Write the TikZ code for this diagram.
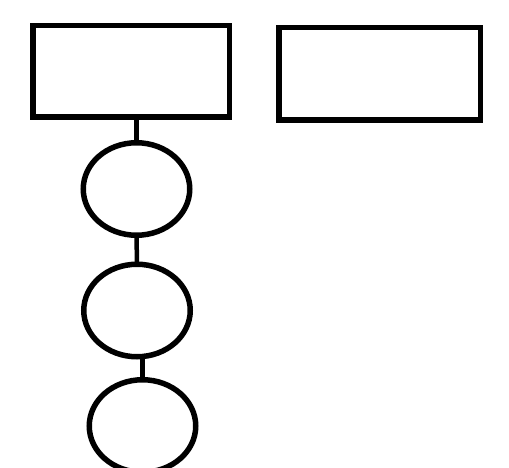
\documentclass[tikz,border=0pt]{standalone}
\usepackage{tikz}
\usetikzlibrary{positioning,shapes.geometric}

\begin{document}
\begin{tikzpicture}[x=1pt,y=-1pt,line width=5.5pt,
    blockbox/.style={draw,rectangle,inner sep=0pt,outer sep=0pt},
    ringnode/.style={draw,ellipse,inner sep=0pt,outer sep=0pt,minimum width=106.5pt,minimum height=92.5pt},
    stem/.style={line width=4.5pt}]
  \useasboundingbox (0,0) rectangle (509,468);
  \node[blockbox,minimum width=196.5pt,minimum height=91.5pt] (boxL) at (131,71.5) {};
  \node[blockbox,minimum width=201.5pt,minimum height=92.5pt] (boxR) at (379.5,74) {};
  \node[ringnode] (ringA) at (136.5,189) {};
  \node[ringnode] (ringB) at (137,310.5) {};
  \node[ringnode] (ringC) at (142.5,426) {};
  \draw[stem] (boxL.south -| ringA.north) -- (ringA.north);
  \draw[stem] (ringA.south) -- (ringB.north);
  \draw[stem] (ringB.south -| ringC.north) -- (ringC.north);
\end{tikzpicture}
\end{document}
